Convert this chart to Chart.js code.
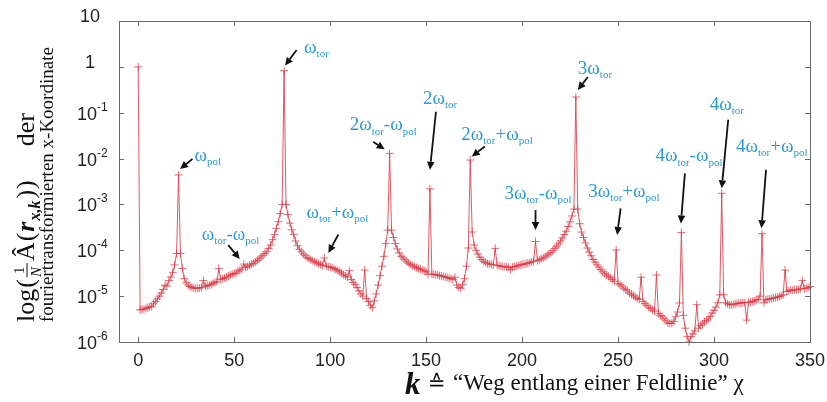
<!DOCTYPE html>
<html>
<head>
<meta charset="utf-8">
<script src="https://cdn.jsdelivr.net/npm/chart.js@4.4.1/dist/chart.umd.min.js"></script>
<style>
  html, body { margin: 0; padding: 0; background: #fff; }
  #wrap { width: 827px; height: 402px; position: relative; }
</style>
</head>
<body>
<div id="wrap"><canvas id="spectrum"></canvas></div>
<script>
// amplitude of the fourier transformed x coordinate, one value per k = 0..351
const amplitude = [
  1,      5.0e-6, 5.1e-6, 5.2e-6, 5.4e-6, 5.6e-6, 5.8e-6, 6.0e-6, 6.8e-6, 7.6e-6,
  8.7e-6, 1.0e-5, 1.17e-5, 1.4e-5, 1.74e-5, 1.66e-5, 2.2e-5, 2.6e-5, 3.3e-5, 4.8e-5,
  8.5e-5, 4.4e-3, 8.5e-5, 4.0e-5, 2.4e-5, 1.95e-5, 1.74e-5, 1.62e-5, 1.55e-5, 1.5e-5,
  1.48e-5, 1.48e-5, 1.5e-5, 1.55e-5, 2.2e-5, 1.62e-5, 1.7e-5, 1.74e-5, 1.8e-5, 1.9e-5,
  2.0e-5, 2.1e-5, 4.0e-5, 2.3e-5, 2.4e-5, 2.5e-5, 2.6e-5, 2.75e-5, 2.9e-5, 3.0e-5,
  3.1e-5, 3.2e-5, 3.5e-5, 3.7e-5, 3.9e-5, 5.0e-5, 4.2e-5, 4.4e-5, 4.7e-5, 5.0e-5,
  5.2e-5, 5.6e-5, 6.0e-5, 6.5e-5, 7.1e-5, 7.8e-5, 8.5e-5, 9.3e-5, 1.1e-4, 1.3e-4,
  1.7e-4, 2.2e-4, 3.0e-4, 4.2e-4, 6.3e-4, 1.0e-3, 0.83, 1.0e-3, 6.0e-4, 3.9e-4,
  2.8e-4, 2.2e-4, 1.6e-4, 1.26e-4, 1.05e-4, 9.3e-5, 8.3e-5, 7.6e-5, 6.9e-5, 6.6e-5,
  6.2e-5, 5.9e-5, 5.6e-5, 5.4e-5, 5.1e-5, 4.9e-5, 4.7e-5, 6.8e-5, 4.5e-5, 4.4e-5,
  4.3e-5, 4.2e-5, 4.0e-5, 3.8e-5, 3.6e-5, 3.4e-5, 3.2e-5, 2.95e-5, 2.75e-5, 2.6e-5,
  3.6e-5, 2.3e-5, 2.0e-5, 1.78e-5, 1.55e-5, 1.3e-5, 1.12e-5, 1.0e-5, 3.7e-5, 8.9e-6,
  7.6e-6, 6.3e-6, 5.6e-6, 7.9e-6, 1.12e-5, 1.74e-5, 2.8e-5, 4.5e-5, 7.4e-5, 1.4e-4,
  2.75e-4, 1.3e-2, 2.75e-4, 1.9e-4, 1.4e-4, 1.07e-4, 8.7e-5, 7.4e-5, 6.8e-5, 6.2e-5,
  5.6e-5, 5.2e-5, 4.9e-5, 4.6e-5, 4.4e-5, 4.2e-5, 4.0e-5, 3.9e-5, 3.7e-5, 3.55e-5,
  3.4e-5, 3.0e-5, 2.2e-3, 3.0e-5, 3.0e-5, 2.95e-5, 2.9e-5, 2.8e-5, 2.75e-5, 2.7e-5,
  2.6e-5, 2.55e-5, 2.45e-5, 2.4e-5, 2.3e-5, 2.6e-5, 1.74e-5, 1.55e-5, 1.48e-5, 1.78e-5,
  2.4e-5, 4.5e-5, 1.12e-4, 9.3e-3, 2.5e-4, 1.3e-4, 1.0e-4, 8.3e-5, 7.1e-5, 6.3e-5,
  5.75e-5, 5.4e-5, 5.1e-5, 5.0e-5, 4.9e-5, 4.8e-5, 1.1e-4, 4.7e-5, 4.6e-5, 4.5e-5,
  4.4e-5, 4.4e-5, 4.3e-5, 4.3e-5, 3.8e-5, 4.3e-5, 4.4e-5, 4.5e-5, 4.7e-5, 4.8e-5,
  4.9e-5, 5.0e-5, 5.1e-5, 5.2e-5, 5.4e-5, 5.6e-5, 5.75e-5, 1.55e-4, 6.0e-5, 6.2e-5,
  6.5e-5, 6.8e-5, 7.2e-5, 7.8e-5, 8.3e-5, 8.9e-5, 9.8e-5, 1.1e-4, 1.23e-4, 1.38e-4,
  1.6e-4, 1.86e-4, 2.2e-4, 2.6e-4, 3.3e-4, 4.2e-4, 5.6e-4, 7.9e-4, 0.22, 7.9e-4,
  3.8e-4, 2.5e-4, 1.9e-4, 1.45e-4, 1.12e-4, 9.1e-5, 7.6e-5, 6.3e-5, 5.5e-5, 4.8e-5,
  4.3e-5, 3.8e-5, 3.4e-5, 3.1e-5, 2.9e-5, 2.7e-5, 2.5e-5, 2.3e-5, 2.1e-5, 1.02e-4,
  1.9e-5, 1.78e-5, 1.66e-5, 1.5e-5, 1.4e-5, 1.3e-5, 1.17e-5, 1.1e-5, 1.02e-5, 9.5e-6,
  8.9e-6, 8.5e-6, 2.6e-5, 7.6e-6, 6.9e-6, 6.3e-6, 5.75e-6, 5.4e-6, 5.0e-6, 4.7e-6,
  2.9e-5, 4.2e-6, 3.8e-6, 3.55e-6, 3.2e-6, 2.9e-6, 2.6e-6, 2.55e-6, 2.55e-6, 2.8e-6,
  3.55e-6, 4.5e-6, 7.1e-6, 2.45e-4, 3.8e-6, 2.0e-6, 1.3e-6, 1.0e-6, 1.3e-6, 1.5e-6,
  1.74e-6, 6.5e-6, 2.0e-6, 2.3e-6, 2.5e-6, 2.75e-6, 2.95e-6, 3.2e-6, 3.6e-6, 4.3e-6,
  4.9e-6, 5.75e-6, 7.2e-6, 1.07e-5, 1.75e-3, 1.07e-5, 7.2e-6, 6.8e-6, 6.5e-6, 6.5e-6,
  6.6e-6, 6.8e-6, 6.9e-6, 7.1e-6, 7.1e-6, 7.2e-6, 7.2e-6, 3.0e-6, 7.4e-6, 7.4e-6,
  7.6e-6, 7.9e-6, 8.3e-6, 8.5e-6, 1.0e-5, 2.3e-4, 7.2e-6, 8.3e-6, 8.5e-6, 8.7e-6,
  8.9e-6, 9.1e-6, 9.3e-6, 9.5e-6, 9.8e-6, 1.02e-5, 1.07e-5, 3.7e-5, 1.26e-5, 1.3e-5,
  1.35e-5, 1.35e-5, 1.38e-5, 1.38e-5, 1.4e-5, 1.45e-5, 2.2e-5, 1.45e-5, 1.48e-5, 1.55e-5,
  1.62e-5, 1.66e-5
];

const xTicks = [0, 50, 100, 150, 200, 250, 300, 350];
const yTicks = [1e-6, 1e-5, 1e-4, 1e-3, 1e-2, 1e-1, 1, 10];
const yTickBase = ['10', '10', '10', '10', '10', '10', '1', '10'];
const yTickExp = ['-6', '-5', '-4', '-3', '-2', '-1', '', ''];

// peak labels: k of the peak, text pieces (n = normal, s = subscript)
const peakNames = [
  { k: 21,  parts: [['ω', 'n'], ['pol', 's']] },
  { k: 76,  parts: [['ω', 'n'], ['tor', 's']] },
  { k: 55,  parts: [['ω', 'n'], ['tor', 's'], ['-ω', 'n'], ['pol', 's']] },
  { k: 97,  parts: [['ω', 'n'], ['tor', 's'], ['+ω', 'n'], ['pol', 's']] },
  { k: 131, parts: [['2ω', 'n'], ['tor', 's'], ['-ω', 'n'], ['pol', 's']] },
  { k: 152, parts: [['2ω', 'n'], ['tor', 's']] },
  { k: 173, parts: [['2ω', 'n'], ['tor', 's'], ['+ω', 'n'], ['pol', 's']] },
  { k: 207, parts: [['3ω', 'n'], ['tor', 's'], ['-ω', 'n'], ['pol', 's']] },
  { k: 228, parts: [['3ω', 'n'], ['tor', 's']] },
  { k: 249, parts: [['3ω', 'n'], ['tor', 's'], ['+ω', 'n'], ['pol', 's']] },
  { k: 283, parts: [['4ω', 'n'], ['tor', 's'], ['-ω', 'n'], ['pol', 's']] },
  { k: 304, parts: [['4ω', 'n'], ['tor', 's']] },
  { k: 325, parts: [['4ω', 'n'], ['tor', 's'], ['+ω', 'n'], ['pol', 's']] }
];

// placement of text and arrow relative to the peak point, in px: [text dx, text dy, tail dx, tail dy, tip dx, tip dy]
const labelPlacement = [
  [16, -14, 14, -16, 1.5, -6],
  [20, -18, 12.5, -20.5, 1, -5],
  [-42, -24, -15.5, -19, -4, -5],
  [-18, -40, 14, -23.5, 4, -5],
  [-40, -23, -16.5, -11.5, -5, -4],
  [-7, -85, 6, -77, 0, -19],
  [-9, -20, 14.5, -13.5, 1.5, -3.5],
  [-31, -43, 0, -31.5, 0, -11.5],
  [2, -23.5, 12, -20, 2, -7],
  [-28, -53, 4.5, -41.5, 1, -15],
  [-26, -71, 3.5, -59, -0.5, -9],
  [-12, -83.5, 6.5, -73.5, 0, -5],
  [-26, -82, 4, -64, -0.5, -5.5]
];

const SERIF = '"Liberation Serif", "DejaVu Serif", serif';
const SANS = '"Liberation Sans", Arial, sans-serif';
const LABEL_BLUE = '#2a9bd5';

function drawMath(ctx, x, y, parts, size) {
  let cx = x;
  ctx.textAlign = 'left';
  ctx.textBaseline = 'alphabetic';
  for (const [txt, kind] of parts) {
    if (kind === 's') {
      ctx.font = Math.round(size * 0.58) + 'px ' + SERIF;
      ctx.fillText(txt, cx, y + size * 0.22);
    } else {
      ctx.font = size + 'px ' + SERIF;
      ctx.fillText(txt, cx, y);
    }
    cx += ctx.measureText(txt).width;
  }
}

function drawArrow(ctx, x1, y1, x2, y2) {
  const ang = Math.atan2(y2 - y1, x2 - x1);
  const head = 8, half = 3.8;
  const bx = x2 - head * Math.cos(ang), by = y2 - head * Math.sin(ang);
  ctx.strokeStyle = '#111';
  ctx.fillStyle = '#111';
  ctx.lineWidth = 1.8;
  ctx.beginPath();
  ctx.moveTo(x1, y1);
  ctx.lineTo(bx, by);
  ctx.stroke();
  ctx.beginPath();
  ctx.moveTo(x2, y2);
  ctx.lineTo(bx + half * Math.sin(ang), by - half * Math.cos(ang));
  ctx.lineTo(bx - half * Math.sin(ang), by + half * Math.cos(ang));
  ctx.closePath();
  ctx.fill();
}

const framePlugin = {
  id: 'frame',
  afterDraw(chart) {
    const ctx = chart.ctx;
    const area = chart.chartArea;
    const xs = chart.scales.x, ys = chart.scales.y;
    ctx.save();

    // box and inward ticks
    ctx.strokeStyle = '#6a6a6a';
    ctx.lineWidth = 1;
    ctx.strokeRect(area.left + 0.5, area.top + 0.5, area.right - area.left, area.bottom - area.top);
    ctx.beginPath();
    xTicks.forEach(t => {
      const px = Math.round(xs.getPixelForValue(t)) + 0.5;
      ctx.moveTo(px, area.bottom); ctx.lineTo(px, area.bottom - 5);
      ctx.moveTo(px, area.top); ctx.lineTo(px, area.top + 5);
    });
    yTicks.forEach(t => {
      const py = Math.round(ys.getPixelForValue(t)) + 0.5;
      ctx.moveTo(area.left, py); ctx.lineTo(area.left + 5, py);
      ctx.moveTo(area.right, py); ctx.lineTo(area.right - 5, py);
    });
    ctx.stroke();

    // x tick labels
    ctx.fillStyle = '#222';
    ctx.font = '18px ' + SANS;
    ctx.textAlign = 'center';
    ctx.textBaseline = 'alphabetic';
    xTicks.forEach(t => ctx.fillText(String(t), xs.getPixelForValue(t), area.bottom + 24));

    // y tick labels with exponents
    yTicks.forEach((t, i) => {
      const py = ys.getPixelForValue(t);
      if (yTickExp[i]) {
        ctx.font = '18px ' + SANS;
        ctx.textAlign = 'left';
        ctx.fillText(yTickBase[i], 77, py + 7);
        const w = ctx.measureText(yTickBase[i]).width;
        ctx.font = '12px ' + SANS;
        ctx.fillText(yTickExp[i], 77 + w, py - 2);
      } else {
        ctx.font = '18px ' + SANS;
        ctx.textAlign = 'center';
        ctx.fillText(yTickBase[i], 90, py + 1);
      }
    });

    // y axis title, two rotated lines
    ctx.save();
    ctx.translate(34, 322);
    ctx.rotate(-Math.PI / 2);
    ctx.fillStyle = '#111';
    ctx.textAlign = 'left';
    let cx = 0;
    ctx.font = '26px ' + SERIF;
    ctx.fillText('log', cx, 0); cx += ctx.measureText('log').width + 1;
    ctx.fillText('(', cx, 0); cx += ctx.measureText('(').width + 2;
    ctx.font = '15px ' + SERIF;
    ctx.fillText('1', cx + 3, -10);
    ctx.font = 'italic 15px ' + SERIF;
    ctx.fillText('N', cx, 7);
    ctx.fillRect(cx, -7.5, 14, 1);
    cx += 16;
    ctx.font = '26px ' + SERIF;
    ctx.fillText('Â', cx, 0); cx += ctx.measureText('Â').width + 1;
    ctx.fillText('(', cx, 0); cx += ctx.measureText('(').width + 1;
    ctx.font = 'bold italic 26px ' + SERIF;
    ctx.fillText('r', cx, 0); cx += ctx.measureText('r').width + 1;
    ctx.font = 'bold italic 16px ' + SERIF;
    ctx.fillText('x,k', cx, 6); cx += ctx.measureText('x,k').width + 2;
    ctx.font = '26px ' + SERIF;
    ctx.fillText(')', cx, 0); cx += ctx.measureText(')').width + 1;
    ctx.fillText(')', cx, 0); cx += ctx.measureText(')').width + 34;
    ctx.fillText('der', cx, 0);
    ctx.restore();

    ctx.save();
    ctx.translate(53, 322);
    ctx.rotate(-Math.PI / 2);
    ctx.fillStyle = '#111';
    ctx.textAlign = 'left';
    ctx.font = '19px ' + SERIF;
    ctx.fillText('fouriertransformierten x-Koordinate', 0, 0);
    ctx.restore();

    // x axis title
    ctx.fillStyle = '#111';
    ctx.textAlign = 'left';
    ctx.font = 'bold italic 31px ' + SERIF;
    ctx.fillText('k', 405, 394);
    ctx.font = '21px "DejaVu Sans", ' + SERIF;
    ctx.fillText('≙', 428, 390);
    ctx.font = '23px ' + SERIF;
    ctx.fillText('“Weg entlang einer Feldlinie” χ', 453, 390);

    // peak annotations
    peakNames.forEach((p, i) => {
      const [tdx, tdy, adx, ady, bdx, bdy] = labelPlacement[i];
      const px = xs.getPixelForValue(p.k);
      const py = ys.getPixelForValue(amplitude[p.k]);
      drawArrow(ctx, px + adx, py + ady, px + bdx, py + bdy);
      ctx.fillStyle = LABEL_BLUE;
      drawMath(ctx, px + tdx, py + tdy, p.parts, 19);
    });

    ctx.restore();
  }
};

new Chart(document.getElementById('spectrum'), {
  type: 'line',
  data: {
    datasets: [{
      data: amplitude.map((v, k) => ({ x: k, y: v })),
      borderColor: 'rgba(220, 60, 72, 0.85)',
      borderWidth: 1,
      pointStyle: 'cross',
      pointRadius: 4,
      pointBorderWidth: 1,
      pointBorderColor: 'rgba(220, 60, 72, 0.75)',
      pointBackgroundColor: 'transparent',
      tension: 0,
      clip: false
    }]
  },
  options: {
    responsive: true,
    maintainAspectRatio: false,
    animation: false,
    devicePixelRatio: 1,
    layout: { padding: { left: 119, right: 17, top: 21, bottom: 60 } },
    plugins: { legend: { display: false }, tooltip: { enabled: false } },
    scales: {
      x: { type: 'linear', min: -10, max: 350, display: false },
      y: { type: 'logarithmic', min: 1e-6, max: 10, display: false }
    }
  },
  plugins: [framePlugin]
});
</script>
</body>
</html>
